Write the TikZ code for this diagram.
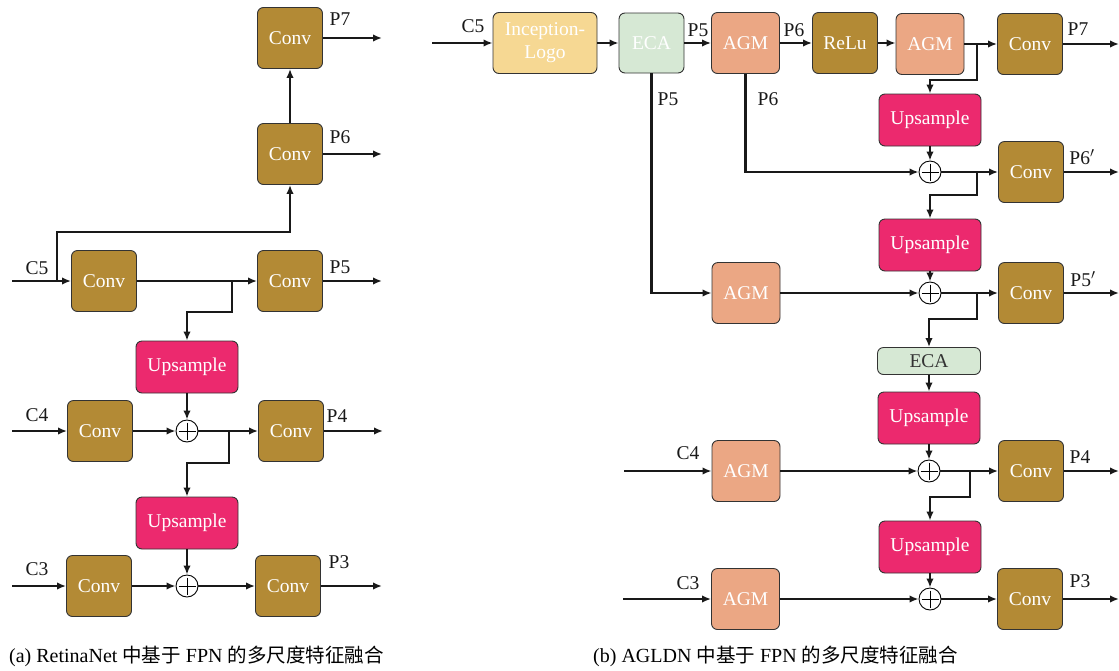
\documentclass[tikz,border=0pt]{standalone}
\usepackage{fontspec}
\setmainfont{Liberation Serif}
\newfontfamily\cjk{Noto Sans CJK SC}
\usetikzlibrary{arrows.meta,calc}
\definecolor{convc}{HTML}{B38A35}
\definecolor{upc}{HTML}{EC296E}
\definecolor{agmc}{HTML}{EBA784}
\definecolor{ecac}{HTML}{D6E8D4}
\definecolor{incc}{HTML}{F6D893}
\definecolor{edgec}{HTML}{333333}
\newcommand{\fs}{\fontsize{19.5}{21}\selectfont}
\newcommand{\fsb}{\fontsize{19.5}{23}\selectfont}
\newcommand{\fcap}{\fontsize{20}{22}\selectfont}
\newcommand{\cj}[1]{{\cjk\fontsize{19.5}{22}\selectfont #1}}
\tikzset{
  box/.style={draw=edgec, line width=0.9pt, rounded corners=6pt, text=white, font=\fs, inner sep=0pt, align=center},
  conv/.style={box, fill=convc, minimum width=65pt, minimum height=61pt},
  ups/.style={box, fill=upc, minimum width=102pt, minimum height=52pt},
  agm/.style={box, fill=agmc, minimum width=68pt, minimum height=61pt},
  ecabig/.style={box, fill=ecac, minimum width=65pt, minimum height=60pt},
  ecasmall/.style={box, fill=ecac, text=edgec, minimum width=103pt, minimum height=27pt},
  incbox/.style={box, fill=incc, minimum width=104pt, minimum height=61pt, font=\fsb},
  sum/.style={circle, draw=black, line width=0.9pt, fill=white, minimum size=22pt, inner sep=0pt,
    path picture={\draw[line width=0.6pt] ([yshift=-2.5pt]path picture bounding box.north) -- ([yshift=2.5pt]path picture bounding box.south)
      ([xshift=2.5pt]path picture bounding box.west) -- ([xshift=-2.5pt]path picture bounding box.east);}},
  arr/.style={line width=2.3pt, draw=black!90, -{Latex[length=9pt,width=7.5pt]}},
  lab/.style={font=\fs, text=black!90, inner sep=0pt}
}
\begin{document}
\begin{tikzpicture}[x=1pt,y=-1pt]
\useasboundingbox (0,0) rectangle (1119,670);
% ---------------- left panel ----------------
\node[conv] (L7) at (290,38) {Conv};
\node[conv] (L6) at (290,154) {Conv};
\node[conv] (L1) at (104,281) {Conv};
\node[conv] (L5) at (290,281) {Conv};
\node[ups] (LU1) at (187,367) {Upsample};
\node[sum] (LA1) at (187,431) {};
\node[conv] (L2) at (100,431) {Conv};
\node[conv] (L4) at (291,431) {Conv};
\node[ups] (LU2) at (187,523) {Upsample};
\node[sum] (LA2) at (187,586) {};
\node[conv] (L3c) at (99,586) {Conv};
\node[conv] (L3) at (288,586) {Conv};

\coordinate (c5in) at (12,281);
\coordinate (c4in) at (12,431);
\coordinate (c3in) at (12,586);
\coordinate (p7out) at (382,38);
\coordinate (p6out) at (382,154);
\coordinate (p5out) at (382,281);
\coordinate (p4out) at (383,431);
\coordinate (p3out) at (382,586);
\coordinate (lb1) at (57,281);
\coordinate (lb1t) at (57,232);
\coordinate (lb2) at (232,281);
\coordinate (lb2b) at (232,312);
\coordinate (lb3) at (229,431);
\coordinate (lb3b) at (229,463);

\node[lab] at (37,268) {C5};
\node[lab] at (37,415) {C4};
\node[lab] at (37,569) {C3};
\node[lab] at (340,19) {P7};
\node[lab] at (340,137) {P6};
\node[lab] at (340,267) {P5};
\node[lab] at (337,416) {P4};
\node[lab] at (339,562) {P3};

\draw[arr] (c5in) -- (L1.west);
\draw[arr] (lb1) -- (lb1t) -| (L6.south);
\draw[arr] (L6.north) -- (L7.south);
\draw[arr] (L7.east) -- (p7out);
\draw[arr] (L6.east) -- (p6out);
\draw[arr] (L1.east) -- (L5.west);
\draw[arr] (lb2) -- (lb2b) -| (LU1.north);
\draw[arr] (L5.east) -- (p5out);
\draw[arr] (LU1.south) -- (LA1.north);
\draw[arr] (c4in) -- (L2.west);
\draw[arr] (L2.east) -- (LA1.west);
\draw[arr] (LA1.east) -- (L4.west);
\draw[arr] (lb3) -- (lb3b) -| (LU2.north);
\draw[arr] (L4.east) -- (p4out);
\draw[arr] (LU2.south) -- (LA2.north);
\draw[arr] (c3in) -- (L3c.west);
\draw[arr] (L3c.east) -- (LA2.west);
\draw[arr] (LA2.east) -- (L3.west);
\draw[arr] (L3.east) -- (p3out);

\node[anchor=west, inner sep=0pt, font=\fcap] (capa) at (9,656) {(a) RetinaNet \cj{中基于} FPN \cj{的多尺度特征融合}};

% ---------------- right panel ----------------
\node[incbox] (Inc) at (545,43) {Inception-\\Logo};
\node[ecabig] (E1) at (651.5,43) {ECA};
\node[agm] (A1) at (745.5,43) {AGM};
\node[conv] (Re) at (845,43) {ReLu};
\node[agm] (A2) at (930,44) {AGM};
\node[conv] (C7) at (1030,44) {Conv};
\node[ups] (RU1) at (930,120) {Upsample};
\node[sum] (RS1) at (930,172) {};
\node[conv] (C6) at (1031,172) {Conv};
\node[ups] (RU2) at (930,245) {Upsample};
\node[sum] (RS2) at (930,293) {};
\node[agm] (A3) at (746,293) {AGM};
\node[conv] (C5n) at (1031,293) {Conv};
\node[ecasmall] (E2) at (929,361) {ECA};
\node[ups] (RU3) at (929,418) {Upsample};
\node[sum] (RS3) at (929,471) {};
\node[agm] (A4) at (746,471) {AGM};
\node[conv] (C4n) at (1031,471) {Conv};
\node[ups] (RU4) at (930,547) {Upsample};
\node[sum] (RS4) at (930,599) {};
\node[agm] (A5) at (745.5,599) {AGM};
\node[conv] (C3n) at (1030,599) {Conv};

\coordinate (rc5in) at (432,43);
\coordinate (rc4in) at (624,471);
\coordinate (rc3in) at (623,599);
\coordinate (rp7) at (1119,44);
\coordinate (rp6) at (1119,172);
\coordinate (rp5) at (1119,293);
\coordinate (rp4) at (1119,471);
\coordinate (rp3) at (1119,599);
\coordinate (rb1) at (977,44);
\coordinate (rb1b) at (977,80);
\coordinate (rb2) at (977,172);
\coordinate (rb2b) at (977,195);
\coordinate (rb3) at (977,293);
\coordinate (rb3b) at (977,319);
\coordinate (rb4) at (970,471);
\coordinate (rb4b) at (970,497);

\node[lab] at (473,26) {C5};
\node[lab] at (698,30) {P5};
\node[lab] at (794,30) {P6};
\node[lab] at (1078,29) {P7};
\node[lab] at (668,99) {P5};
\node[lab] at (768,99) {P6};
\node[lab] at (1082,157) {P6$'$};
\node[lab] at (1083,279) {P5$'$};
\node[lab] at (688,453) {C4};
\node[lab] at (1080,457) {P4};
\node[lab] at (688,583) {C3};
\node[lab] at (1080,581) {P3};

\draw[arr] (rc5in) -- (Inc.west);
\draw[arr] (Inc.east) -- (E1.west);
\draw[arr] (E1.east) -- (A1.west);
\draw[arr] (A1.east) -- (Re.west);
\draw[arr] (Re.east) -- (Re.east -| A2.west);
\draw[arr] (A2.east) -- (C7.west);
\draw[arr] (rb1) -- (rb1b) -| (RU1.north);
\draw[arr] (C7.east) -- (rp7);
\draw[arr] (E1.south) |- (A3.west);
\draw[arr] (A1.south) |- (RS1.west);
\draw[arr] (RU1.south) -- (RS1.north);
\draw[arr] (RS1.east) -- (C6.west);
\draw[arr] (rb2) -- (rb2b) -| (RU2.north);
\draw[arr] (C6.east) -- (rp6);
\draw[arr] (RU2.south) -- (RS2.north);
\draw[arr] (A3.east) -- (RS2.west);
\draw[arr] (RS2.east) -- (C5n.west);
\draw[arr] (rb3) -- (rb3b) -| (E2.north);
\draw[arr] (C5n.east) -- (rp5);
\draw[arr] (E2.south) -- (RU3.north);
\draw[arr] (RU3.south) -- (RS3.north);
\draw[arr] (rc4in) -- (A4.west);
\draw[arr] (A4.east) -- (RS3.west);
\draw[arr] (RS3.east) -- (C4n.west);
\draw[arr] (rb4) -- (rb4b) -| (RU4.north);
\draw[arr] (C4n.east) -- (rp4);
\draw[arr] (RU4.south) -- (RS4.north);
\draw[arr] (rc3in) -- (A5.west);
\draw[arr] (A5.east) -- (RS4.west);
\draw[arr] (RS4.east) -- (C3n.west);
\draw[arr] (C3n.east) -- (rp3);

\node[anchor=west, inner sep=0pt, font=\fcap] (capb) at (593,656) {(b) AGLDN \cj{中基于} FPN \cj{的多尺度特征融合}};
\end{tikzpicture}
\end{document}
